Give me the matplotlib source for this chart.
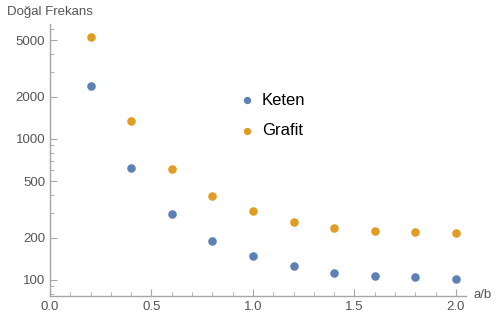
import numpy as np
import matplotlib.pyplot as plt
from matplotlib.ticker import FixedLocator, NullFormatter

ab = [0.2, 0.4, 0.6, 0.8, 1.0, 1.2, 1.4, 1.6, 1.8, 2.0]
keten = [2390, 622, 294, 188, 147, 126, 113, 107, 104.5, 102]
grafit = [5260, 1343, 609, 393, 307, 258, 234, 221, 219, 216]
names = ["Keten", "Grafit"]
colors = ["#5e81b5", "#e19c24"]

y_major = [100, 200, 500, 1000, 2000, 5000]
x_major = [0.0, 0.5, 1.0, 1.5, 2.0]

plt.rcParams['font.family'] = ['Liberation Sans', 'DejaVu Sans']
fig = plt.figure(figsize=(4.96, 3.22), dpi=100)
ax = fig.add_axes([50 / 496, 1 - 296 / 322, 416 / 496, 272 / 322])

ax.scatter(ab, keten, s=38, color=colors[0], zorder=3, linewidths=0)
ax.scatter(ab, grafit, s=38, color=colors[1], zorder=3, linewidths=0)

ax.set_yscale('log')
ax.set_xlim(0, 2.05)
ax.set_ylim(77, 6540)

ax.yaxis.set_major_locator(FixedLocator(y_major))
ax.set_yticklabels([str(v) for v in y_major])
minor = [m * 10 ** e for e in range(1, 4) for m in range(1, 10)]
minor = [v for v in minor if v not in y_major and 77 < v < 6540]
ax.yaxis.set_minor_locator(FixedLocator(minor))
ax.yaxis.set_minor_formatter(NullFormatter())

ax.xaxis.set_major_locator(FixedLocator(x_major))
ax.set_xticklabels(["%.1f" % v for v in x_major])
ax.xaxis.set_minor_locator(FixedLocator(np.arange(0.1, 2.05, 0.1)))

for s in ['top', 'right']:
    ax.spines[s].set_visible(False)
for s in ['left', 'bottom']:
    ax.spines[s].set_color('#a6a6a6')
    ax.spines[s].set_linewidth(1.0)

ax.tick_params(which='both', direction='in', color='#a6a6a6', labelcolor='#555555', labelsize=9.5)
ax.tick_params(which='major', length=5)
ax.tick_params(which='minor', length=3)

# legend drawn as points with text
lx, ly = 0.473, [0.72, 0.608]
for i in range(2):
    ax.scatter([lx], [ly[i]], s=28, color=colors[i], transform=ax.transAxes, clip_on=False, linewidths=0)
    ax.text(0.509, ly[i], names[i], transform=ax.transAxes, fontsize=12,
            va='center', ha='left', color='black')

fig.text(7 / 496, 1 - 12 / 322, "Doğal Frekans", fontsize=9.5, color='#555555', va='center')
fig.text(474 / 496, 1 - 295 / 322, "a/b", fontsize=9.5, color='#555555', va='center')

fig.savefig('out.png', dpi=100)
